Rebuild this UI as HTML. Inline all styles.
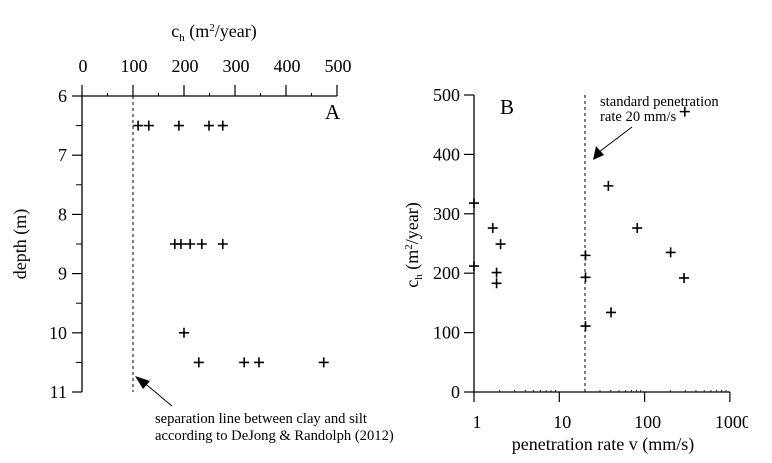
<!DOCTYPE html>
<html><head><meta charset="utf-8"><style>
body{margin:0;background:#fff}
svg{display:block;font-family:"Liberation Serif",serif}
</style></head><body>
<svg id="chart" width="772" height="463" viewBox="0 0 772 463">
<defs><clipPath id="clipR"><rect x="0" y="0" width="748" height="463"/></clipPath></defs>
<g id="A"></g>
<g id="B" clip-path="url(#clipR)"></g>
</svg>
<script>
// Panel A data
const aDepth = [6.5,6.5,6.5,6.5,6.5, 8.5,8.5,8.5,8.5,8.5, 10, 10.5,10.5,10.5,10.5];
const aCh = [110,131,190,249,276, 182,194,212,235,276, 200, 229,318,347,474];
const aXTicks = [0,100,200,300,400,500];
const aYTicks = [6,7,8,9,10,11];
// Panel B data
const bRate = [1,1,1.66,2.05,1.84,1.84,20.3,20.3,20.3,37.6,40.4,82,202,290,296];
const bCh = [318,212,276,249,201,183,230,193,111,347,134,276,235,192,472];
const bXTicks = [1,10,100,1000];
const bXLabels = ["1","10","100","1000"];
const bYTicks = [0,100,200,300,400,500];

const NS="http://www.w3.org/2000/svg";
function mk(p,tag,attrs,name,txt){const e=document.createElementNS(NS,tag);for(const k in attrs)e.setAttribute(k,attrs[k]);


if(txt!==undefined)e.textContent=txt;p.appendChild(e);return e;}
function plus(g,x,y,name){mk(g,'path',{d:`M${x-5},${y}H${x+5}M${x},${y-5}V${y+5}`,stroke:'#000','stroke-width':1.6},name);}

// Panel A
const A=document.getElementById('A');
const ax=v=>82+v*0.51, ay=d=>96+(d-6)*59.2;
mk(A,'line',{x1:82,y1:96,x2:ax(500),y2:96,stroke:'#000','stroke-width':1.3},'x-axis-a');
mk(A,'line',{x1:82,y1:96,x2:82,y2:ay(11),stroke:'#000','stroke-width':1.3},'y-axis-a');
aXTicks.forEach(v=>{mk(A,'line',{x1:ax(v),y1:96,x2:ax(v),y2:85,stroke:'#000','stroke-width':1.2},'x-tick-a');
 mk(A,'text',{x:ax(v)+1,y:72,'font-size':18,'text-anchor':'middle'},'x-tick-label-a',String(v));
 if(v<500)mk(A,'line',{x1:ax(v+50),y1:96,x2:ax(v+50),y2:93,stroke:'#000','stroke-width':1},'x-minor-tick-a');});
aYTicks.forEach(d=>{mk(A,'line',{x1:72,y1:ay(d),x2:82,y2:ay(d),stroke:'#000','stroke-width':1.2},'y-tick-a');
 mk(A,'text',{x:67,y:ay(d)+6,'font-size':18,'text-anchor':'end'},'y-tick-label-a',String(d));
 if(d<11)mk(A,'line',{x1:76,y1:ay(d+0.5),x2:82,y2:ay(d+0.5),stroke:'#000','stroke-width':1},'y-minor-tick-a');});
const at=mk(A,'text',{x:214,y:37,'font-size':18,'text-anchor':'middle'},'x-axis-title-a');
at.innerHTML='c<tspan font-size="11" dy="4">h</tspan><tspan dy="-4">  (m</tspan><tspan font-size="11" dy="-6">2</tspan><tspan dy="6">/year)</tspan>';
mk(A,'text',{x:26,y:244,'font-size':18,'text-anchor':'middle',transform:'rotate(-90 26 244)'},'y-axis-title-a','depth (m)');
mk(A,'text',{x:325,y:119,'font-size':21},'panel-label-a','A');
mk(A,'line',{x1:ax(100),y1:96,x2:ax(100),y2:392,stroke:'#000','stroke-width':1,'stroke-dasharray':'3,3'},'clay-silt-line');
aCh.forEach((v,i)=>plus(A,ax(v),ay(aDepth[i]),'point-a'));
mk(A,'line',{x1:172,y1:406,x2:142,y2:381,stroke:'#000','stroke-width':1},'arrow-a');
mk(A,'path',{d:'M135,376 L150,381 L143,389 Z',fill:'#000'},'arrowhead-a');
mk(A,'text',{x:155,y:423,'font-size':14.6},'annotation-a-line1','separation line between clay and silt');
mk(A,'text',{x:155,y:440,'font-size':14.6},'annotation-a-line2','according to DeJong & Randolph (2012)');

// Panel B
const B=document.getElementById('B');
const bx=v=>474+Math.log10(v)*85.3, by=c=>392-c*0.594;
mk(B,'line',{x1:474,y1:392,x2:730,y2:392,stroke:'#000','stroke-width':1.3},'x-axis-b');
mk(B,'line',{x1:474,y1:95,x2:474,y2:392,stroke:'#000','stroke-width':1.3},'y-axis-b');
bXTicks.forEach((v,i)=>{mk(B,'line',{x1:bx(v),y1:392,x2:bx(v),y2:402,stroke:'#000','stroke-width':1.2},'x-tick-b');
 mk(B,'text',{x:bx(v)+3,y:428,'font-size':18,'text-anchor':'middle'},'x-tick-label-b',bXLabels[i]);
 if(v<1000)for(let k=2;k<10;k++)mk(B,'line',{x1:bx(v*k),y1:392,x2:bx(v*k),y2:390,stroke:'#000','stroke-width':0.8},'x-minor-tick-b');});
bYTicks.forEach(c=>{mk(B,'line',{x1:464,y1:by(c),x2:474,y2:by(c),stroke:'#000','stroke-width':1.2},'y-tick-b');
 mk(B,'text',{x:460,y:by(c)+6,'font-size':18,'text-anchor':'end'},'y-tick-label-b',String(c));});
mk(B,'text',{x:603,y:450,'font-size':18,'text-anchor':'middle'},'x-axis-title-b','penetration rate v (mm/s)');
const bt=mk(B,'text',{x:418,y:245,'font-size':18,'text-anchor':'middle',transform:'rotate(-90 418 245)'},'y-axis-title-b');
bt.innerHTML='c<tspan font-size="11" dy="4">h</tspan><tspan dy="-4"> (m</tspan><tspan font-size="11" dy="-6">2</tspan><tspan dy="6">/year)</tspan>';
mk(B,'text',{x:500,y:114,'font-size':21},'panel-label-b','B');
mk(B,'line',{x1:bx(20),y1:95,x2:bx(20),y2:392,stroke:'#000','stroke-width':1,'stroke-dasharray':'3,3'},'standard-rate-line');
mk(B,'text',{x:600,y:106,'font-size':14.6},'annotation-b-line1','standard penetration');
mk(B,'text',{x:600,y:121,'font-size':14.6},'annotation-b-line2','rate 20 mm/s');
mk(B,'line',{x1:632,y1:127,x2:599,y2:152,stroke:'#000','stroke-width':1},'arrow-b');
mk(B,'path',{d:'M593,160 L596,146 L604,155 Z',fill:'#000'},'arrowhead-b');
bCh.forEach((c,i)=>plus(B,bx(bRate[i]),by(c),'point-b'));
</script>
</body></html>
